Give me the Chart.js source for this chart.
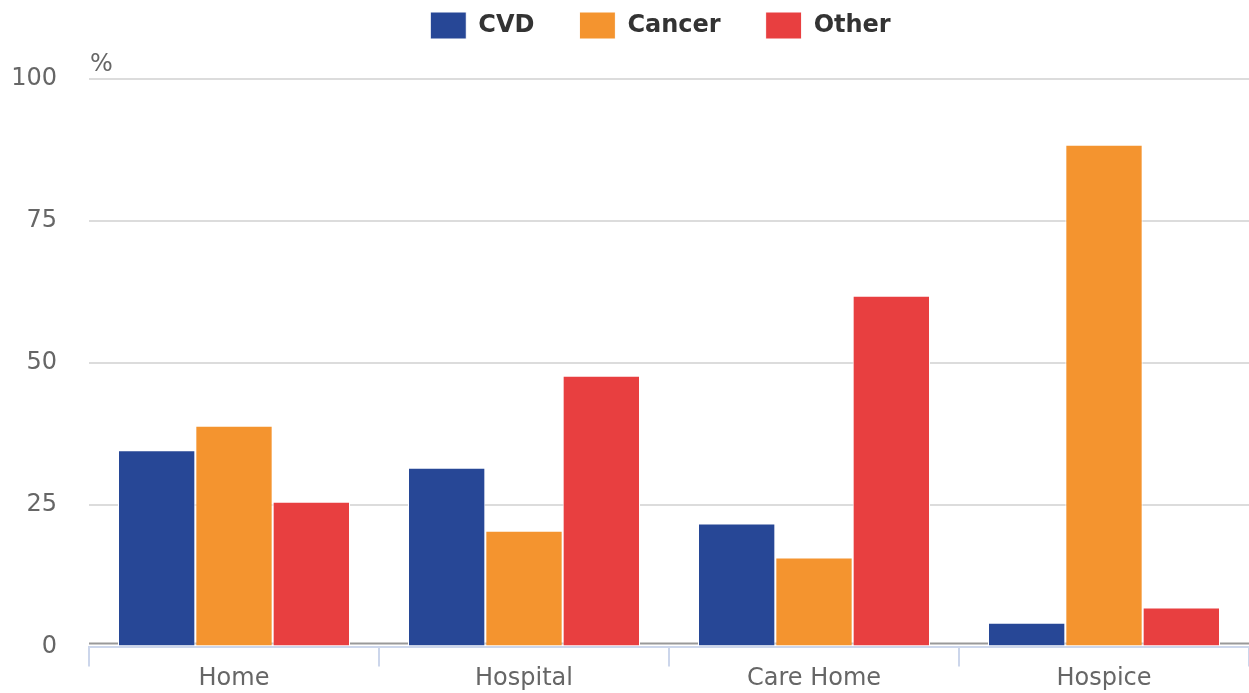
<!DOCTYPE html>
<html>
<head>
  <title>Place of death by cause</title>
  <script src="https://cdn.jsdelivr.net/npm/chart.js"></script>
  <style>
    html, body { margin: 0; padding: 0; background: #fff; }
    #wrap { width: 1249px; height: 693px; }
  </style>
</head>
<body>
  <div id="wrap"><canvas id="myChart"></canvas></div>

  <script>
    // Data
    var places = ['Home', 'Hospital', 'Care Home', 'Hospice'];
    var cvd = [34.6, 31.5, 21.7, 4.2];
    var cancer = [38.9, 20.4, 15.7, 88.4];
    var other = [25.5, 47.7, 61.8, 6.9];
    var yTicks = [0, 25, 50, 75, 100];

    var FONT = "'DejaVu Sans', sans-serif";

    // Legend: wide spacing between items, fixed block height,
    // items nudged up/right after layout
    var legendFit = {
      id: 'legendFit',
      beforeInit: function(chart) {
        var fit = chart.legend.fit;
        chart.legend.fit = function() {
          fit.call(this);
          this.height = 79;
        };
      },
      afterUpdate: function(chart) {
        chart.legend.left += 36;
        chart.legend.right += 36;
        chart.legend.top = -33;
      }
    };

    // grey baseline just above the axis line, behind the bars
    var baseLine = {
      id: 'baseLine',
      beforeDatasetsDraw: function(chart) {
        var c = chart.ctx, a = chart.chartArea;
        var y = chart.scales.y.getPixelForValue(0) - 3;
        c.save();
        c.strokeStyle = '#999';
        c.lineWidth = 2;
        c.beginPath();
        c.moveTo(a.left, y);
        c.lineTo(a.right, y);
        c.stroke();
        c.restore();
      }
    };

    // "%" unit label above the value axis
    var unitLabel = {
      id: 'unitLabel',
      afterDraw: function(chart) {
        var c = chart.ctx;
        c.save();
        c.font = '24px ' + FONT;
        c.fillStyle = '#666';
        c.textAlign = 'left';
        c.textBaseline = 'bottom';
        c.fillText('%', chart.chartArea.left + 1, chart.chartArea.top - 2);
        c.restore();
      }
    };

    var ctx = document.getElementById('myChart').getContext('2d');
    var myChart = new Chart(ctx, {
      type: 'bar',
      data: {
        labels: places,
        datasets: [
          { label: 'CVD', data: cvd, backgroundColor: '#274796' },
          { label: 'Cancer', data: cancer, backgroundColor: '#f4942f' },
          { label: 'Other', data: other, backgroundColor: '#e83f40' }
        ]
      },
      options: {
        responsive: true,
        maintainAspectRatio: false,
        animation: false,
        layout: { padding: 0 },
        datasets: {
          bar: {
            categoryPercentage: 0.8,
            barPercentage: 1.0,
            borderWidth: 1,
            borderColor: '#ffffff'
          }
        },
        plugins: {
          tooltip: { enabled: false },
          legend: {
            position: 'top',
            align: 'center',
            labels: {
              boxWidth: 36,
              boxHeight: 27,
              padding: 45,
              color: '#333',
              font: { family: FONT, size: 24, weight: 'bold' }
            }
          }
        },
        scales: {
          x: {
            grid: {
              drawOnChartArea: false,
              drawTicks: true,
              tickLength: 20,
              color: '#ccd6eb',
              lineWidth: 2
            },
            border: { display: true, color: '#ccd6eb', width: 2 },
            ticks: {
              color: '#666',
              padding: -2,
              font: { family: FONT, size: 24 }
            },
            afterFit: function(scale) { scale.height = 45; }
          },
          y: {
            min: 0,
            max: 100,
            afterBuildTicks: function(scale) {
              scale.ticks = yTicks.map(function(v) { return { value: v }; });
            },
            grid: {
              drawTicks: false,
              lineWidth: 2,
              color: function(c) { return c.tick && c.tick.value === 0 ? 'rgba(0,0,0,0)' : '#dcdcdc'; }
            },
            border: { display: false },
            ticks: {
              color: '#666',
              padding: 32,
              font: { family: FONT, size: 24 }
            },
            afterFit: function(scale) { scale.width = 89; }
          }
        }
      },
      plugins: [legendFit, baseLine, unitLabel]
    });
  </script>
</body>
</html>
